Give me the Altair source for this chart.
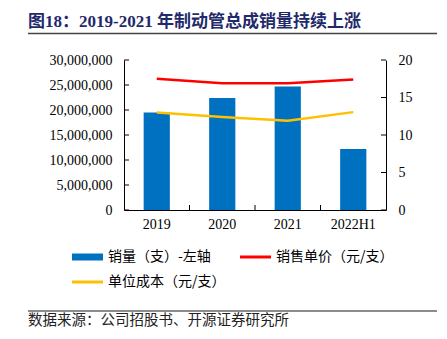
import altair as alt
import pandas as pd

categories = ["2019", "2020", "2021", "2022H1"]
volume = [19500000, 22400000, 24700000, 12200000]
price = [17.5, 16.9, 16.9, 17.4]
cost = [13.0, 12.4, 11.9, 13.05]
left_ticks = [0, 5000000, 10000000, 15000000, 20000000, 25000000, 30000000]
right_ticks = [0, 5, 10, 15, 20]
series_names = ["销量（支）-左轴", "销售单价（元/支）", "单位成本（元/支）"]
colors = ["#0070C0", "#FF0000", "#FFC000"]
legend_shapes = ["M-1,-0.23H1V0.23H-1Z", "M-1,-0.09H1V0.09H-1Z", "M-1,-0.09H1V0.09H-1Z"]
title_text = "图18：2019-2021 年制动管总成销量持续上涨"
source_text = "数据来源：公司招股书、开源证券研究所"

W, H = 262, 150
SERIF = "Liberation Serif"
CJK = "Noto Sans CJK SC"
MIX = "Liberation Serif, Noto Sans CJK SC"
PAD_IN, PAD_OUT = 0.6, 0.3
STEP = W / (len(categories) - PAD_IN + 2 * PAD_OUT)

bars_df = pd.DataFrame({"cat": categories, "v": volume})
price_df = pd.DataFrame({"cat": categories, "v": price})
cost_df = pd.DataFrame({"cat": categories, "v": cost})
legend_df = pd.DataFrame({"s": series_names})
lt_df = pd.DataFrame({"t": left_ticks})
rt_df = pd.DataFrame({"t": right_ticks})
xt_df = pd.DataFrame({"cat": categories[1:]})
one = pd.DataFrame({"a": [0]})

xscale = alt.Scale(domain=categories, paddingInner=PAD_IN, paddingOuter=PAD_OUT)
xaxis = alt.Axis(title=None, ticks=False, labelFont=SERIF, labelFontSize=14,
                 labelColor="black", labelPadding=7, domainColor="black",
                 labelAngle=0, grid=False)
left_axis = alt.Axis(title=None, values=left_ticks, labelExpr="format(datum.value, ',')",
                     ticks=False, grid=False,
                     labelFont=SERIF, labelFontSize=14, labelColor="black",
                     labelPadding=12, domainColor="black", orient="left")
right_axis = alt.Axis(title=None, values=right_ticks, ticks=False, grid=False,
                      labelFont=SERIF, labelFontSize=14, labelColor="black",
                      labelPadding=12, domainColor="black", orient="right")
lscale = alt.Scale(domain=[0, 30000000], nice=False)
rscale = alt.Scale(domain=[0, 20], nice=False)

legend = alt.Legend(
    title=None, orient="none", legendX=-52, legendY=189, columns=2, direction="horizontal",
    columnPadding=14, rowPadding=9, padding=0, clipHeight=16,
    symbolSize=961, symbolOffset=0, symbolStrokeWidth=0, values=series_names,
    labelFont=CJK, labelFontSize=14, labelColor="black", labelOffset=5,
)

bars = alt.Chart(bars_df).mark_bar(color=colors[0]).encode(
    x=alt.X("cat:N", scale=xscale, axis=xaxis, sort=categories),
    y=alt.Y("v:Q", scale=lscale, axis=left_axis),
)
lticks = alt.Chart(lt_df).mark_rule(color="black", strokeWidth=1).encode(
    y=alt.Y("t:Q", scale=lscale, axis=left_axis),
    x=alt.value(0), x2=alt.value(5),
)
xticks = alt.Chart(xt_df).mark_rule(color="black", strokeWidth=1,
                                     xOffset=-STEP * PAD_IN / 2).encode(
    x=alt.X("cat:N", scale=xscale, axis=xaxis, sort=categories, bandPosition=0),
    y=alt.value(H - 5), y2=alt.value(H),
)
left_layer = alt.layer(bars, lticks, xticks)

price_line = alt.Chart(price_df).mark_line(strokeWidth=2.5, color=colors[1]).encode(
    x=alt.X("cat:N", scale=xscale, axis=xaxis, sort=categories),
    y=alt.Y("v:Q", scale=rscale, axis=right_axis),
)
cost_line = alt.Chart(cost_df).mark_line(strokeWidth=2.5, color=colors[2]).encode(
    x=alt.X("cat:N", scale=xscale, axis=xaxis, sort=categories),
    y=alt.Y("v:Q", scale=rscale, axis=right_axis),
)
rticks = alt.Chart(rt_df).mark_rule(color="black", strokeWidth=1).encode(
    y=alt.Y("t:Q", scale=rscale, axis=right_axis),
    x=alt.value(W - 5), x2=alt.value(W),
)
right_layer = alt.layer(price_line, cost_line, rticks)

legend_layer = alt.Chart(legend_df).mark_point(filled=True, opacity=1, size=961).encode(
    x=alt.value(0), y=alt.value(0),
    color=alt.Color("s:N", sort=series_names,
                    scale=alt.Scale(domain=series_names, range=colors), legend=legend),
    shape=alt.Shape("s:N", sort=series_names,
                    scale=alt.Scale(domain=series_names, range=legend_shapes), legend=legend),
).transform_filter("datum.s == 'none'")

title_mark = alt.Chart(one).mark_text(
    text=title_text, font=MIX, fontSize=17, fontWeight="bold", color="#1F2A6B",
    align="left", baseline="middle",
).encode(x=alt.value(-96), y=alt.value(-38.5))
title_rule = alt.Chart(one).mark_rule(color="#444444", strokeWidth=1.3).encode(
    x=alt.value(-96), x2=alt.value(313), y=alt.value(-26.5))
source_rule = alt.Chart(one).mark_rule(color="#666666", strokeWidth=1.3).encode(
    x=alt.value(-96), x2=alt.value(313), y=alt.value(251))
source_mark = alt.Chart(one).mark_text(
    text=source_text, font=CJK, fontSize=14.5, color="#222222",
    align="left", baseline="middle",
).encode(x=alt.value(-96), y=alt.value(260.7))

chart = alt.layer(
    left_layer, right_layer, legend_layer, title_mark, title_rule, source_rule, source_mark
).resolve_scale(y="independent").properties(
    width=W, height=H,
    autosize=alt.AutoSizeParams(type="none"),
    padding={"left": 124, "top": 60, "right": 61, "bottom": 129},
).configure_view(stroke=None)

chart.save("out.html", embed_options={"renderer": "svg", "actions": False})
